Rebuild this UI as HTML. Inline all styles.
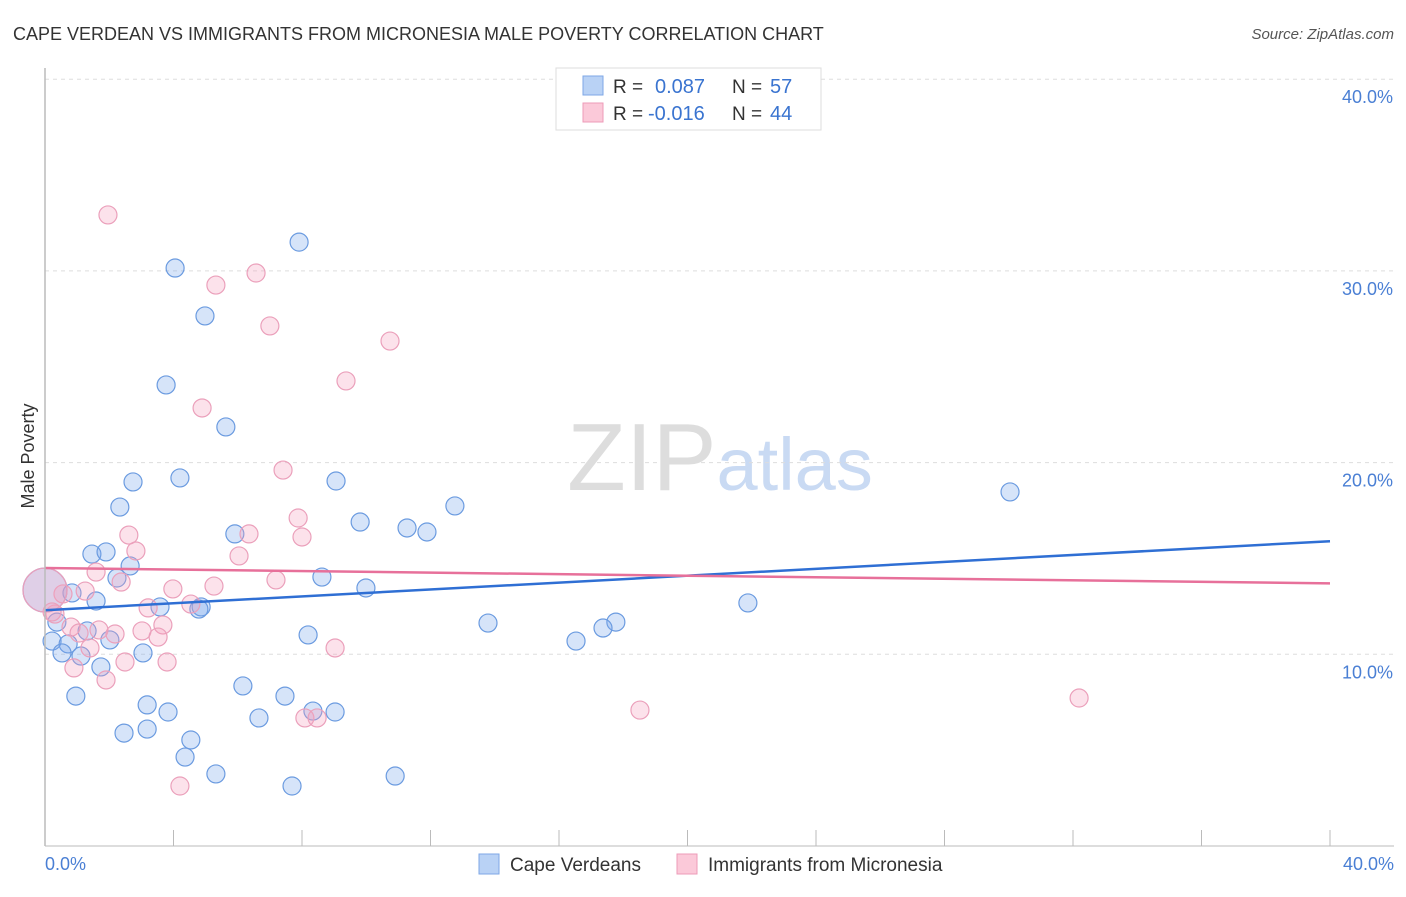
<!DOCTYPE html>
<html><head><meta charset="utf-8"><style>
body{margin:0;background:#fff;font-family:"Liberation Sans",sans-serif;}
svg text{font-family:"Liberation Sans",sans-serif;}
</style></head><body>
<svg id="chart" width="1406" height="892" xmlns="http://www.w3.org/2000/svg">
<text x="13" y="40" font-size="18" fill="#333">CAPE VERDEAN VS IMMIGRANTS FROM MICRONESIA MALE POVERTY CORRELATION CHART</text>
<text x="1394" y="39" font-size="15" fill="#555" text-anchor="end" font-style="italic">Source: ZipAtlas.com</text>
<text x="720" y="490" font-size="96" text-anchor="middle" fill="#ddd" font-family="Liberation Serif"><tspan>ZIP</tspan><tspan fill="#c9daf3" font-family="Liberation Sans" font-size="74">atlas</tspan></text>
<text transform="translate(34,456) rotate(-90)" font-size="18" fill="#333" text-anchor="middle">Male Poverty</text>
<g id="grid"></g><g id="ticks"></g><g id="pts"></g><g id="lines"></g>
<line x1="45" y1="68" x2="45" y2="846" stroke="#bbb" stroke-width="1.5"/>
<line x1="45" y1="846" x2="1394" y2="846" stroke="#bbb" stroke-width="1"/>
<text x="45" y="870" font-size="18" fill="#4a7fd4">0.0%</text>
<text x="1394" y="870" font-size="18" fill="#4a7fd4" text-anchor="end">40.0%</text>
<g>
<rect x="556" y="68" width="265" height="62" fill="#fff" stroke="#ddd"/>
<rect x="583" y="76" width="20" height="19" fill="#b9d2f5" stroke="#7ea7e6"/>
<rect x="583" y="103" width="20" height="19" fill="#fbc9d9" stroke="#ee9bb8"/>
<text x="613" y="93" font-size="19" fill="#333">R = </text><text x="655" y="93" font-size="20" fill="#3a74d0">0.087</text>
<text x="732" y="93" font-size="19" fill="#333">N = </text><text x="770" y="93" font-size="20" fill="#3a74d0">57</text>
<text x="613" y="120" font-size="19" fill="#333">R = </text><text x="648" y="120" font-size="20" fill="#3a74d0">-0.016</text>
<text x="732" y="120" font-size="19" fill="#333">N = </text><text x="770" y="120" font-size="20" fill="#3a74d0">44</text>
</g>
<g>
<rect x="479" y="854" width="20" height="20" fill="#b9d2f5" stroke="#7ea7e6"/>
<text x="510" y="871" font-size="19" fill="#333">Cape Verdeans</text>
<rect x="677" y="854" width="20" height="20" fill="#fbc9d9" stroke="#ee9bb8"/>
<text x="708" y="871" font-size="19" fill="#333">Immigrants from Micronesia</text>
</g>
</svg>
<script>
const yTicks=[10,20,30,40];
const yTickLabels=["10.0%","20.0%","30.0%","40.0%"];
const xTickVals=[0,4,8,12,16,20,24,28,32,36,40];
const blueX=[7.91,4.05,4.98,3.77,5.63,4.20,2.74,9.06,2.33,12.76,9.81,11.27,11.89,5.91,30.04,1.46,1.90,2.65,2.24,8.62,9.99,0.84,1.59,3.58,4.86,4.79,21.88,13.79,17.77,17.37,0.37,1.31,8.19,16.53,0.22,0.72,2.02,0.53,1.12,3.05,1.74,6.16,0.96,7.47,3.18,3.83,8.34,9.03,6.66,2.46,3.18,4.54,4.36,5.32,10.90,7.69,0.0];
const blueY=[31.5,30.15,27.65,24.05,21.86,19.2,18.99,19.04,17.68,17.74,16.9,16.59,16.38,16.28,18.47,15.23,15.34,14.61,13.98,14.03,13.46,13.2,12.78,12.47,12.47,12.36,12.68,11.63,11.68,11.37,11.68,11.22,11.01,10.69,10.69,10.54,10.75,10.07,9.91,10.07,9.34,8.35,7.82,7.82,7.36,6.99,7.04,6.99,6.68,5.89,6.10,5.53,4.64,3.76,3.65,3.13,13.35];
const pinkX=[1.96,6.57,5.32,7.00,10.74,9.37,4.89,7.41,7.88,2.61,6.35,8.00,2.83,6.04,1.59,2.37,7.19,3.98,5.26,1.25,0.56,0.31,3.21,4.54,3.67,0.81,1.68,1.06,2.18,3.02,3.52,1.40,9.03,2.49,3.80,0.90,1.90,18.52,32.19,8.09,8.47,4.20,0.0,0.22];
const pinkY=[32.92,29.89,29.26,27.13,26.34,24.26,22.85,19.61,17.11,16.22,16.28,16.12,15.39,15.13,14.29,13.77,13.88,13.41,13.56,13.3,13.15,12.1,12.42,12.62,11.53,11.42,11.27,11.11,11.06,11.22,10.9,10.33,10.33,9.6,9.6,9.29,8.66,7.09,7.72,6.68,6.68,3.13,13.35,12.21];
const blueTrend=[12.3,15.9];
const pinkTrend=[14.5,13.7];
const X=v=>45+v/40*1285, Y=v=>846-v*19.17;
const NS="http://www.w3.org/2000/svg";
function mk(t,a,p){const e=document.createElementNS(NS,t);for(const k in a)e.setAttribute(k,a[k]);document.getElementById(p).appendChild(e);return e;}
yTicks.forEach((v,i)=>{
 const l=mk('line',{x1:45,x2:1394,y1:Y(v),y2:Y(v),stroke:'#ddd','stroke-dasharray':'4,4'},'grid');
 
 
 const t=mk('text',{x:1393,y:Y(v)+24,'font-size':18,fill:'#4a7fd4','text-anchor':'end'},'grid');
 t.textContent=yTickLabels[i];
 
 
});
xTickVals.forEach(v=>{
 const l=mk('line',{x1:X(v),x2:X(v),y1:830,y2:846,stroke:'#bbb'},'ticks');
 
 
});
function pts(xs,ys,fill,stroke,name){
 xs.forEach((x,i)=>{
  const big=(x===0);
  const c=mk('circle',{cx:X(x),cy:Y(ys[i]),r:big?22:9,fill:fill,stroke:stroke,'stroke-width':1.2},'pts');
  
  
 });
}
pts(blueX,blueY,'rgba(120,165,235,0.3)','#6b9be0','cape-verdean-point');
pts(pinkX,pinkY,'rgba(245,160,190,0.3)','#eba0bb','micronesia-point');
const b=mk('line',{x1:X(0),x2:X(40),y1:Y(blueTrend[0]),y2:Y(blueTrend[1]),stroke:'#2f6fd4','stroke-width':2.5},'lines');


const p=mk('line',{x1:X(0),x2:X(40),y1:Y(pinkTrend[0]),y2:Y(pinkTrend[1]),stroke:'#e7709a','stroke-width':2.5},'lines');


</script>
</body></html>
